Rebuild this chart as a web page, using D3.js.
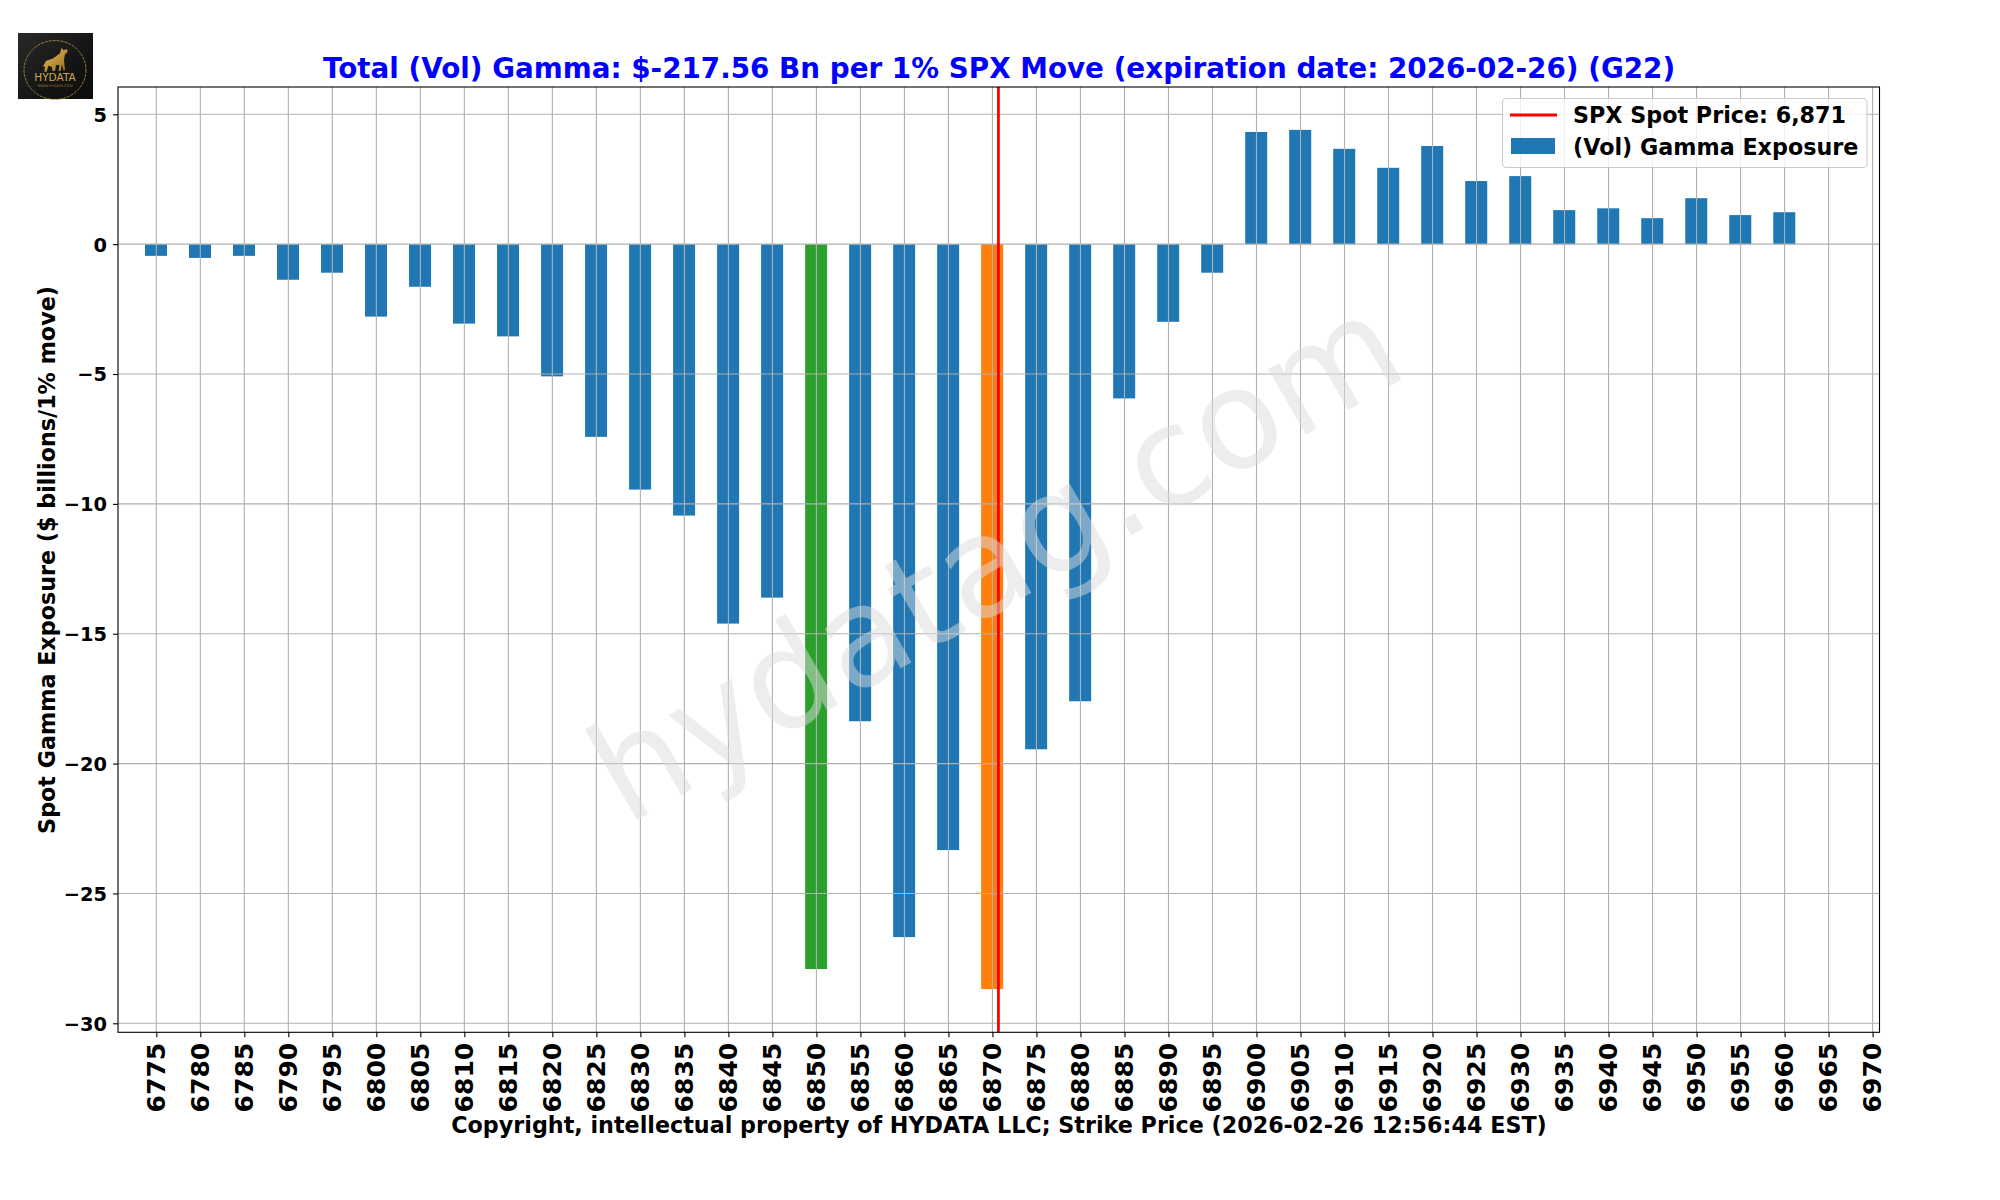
<!DOCTYPE html>
<html>
<head>
<meta charset="utf-8">
<script src="https://cdn.jsdelivr.net/npm/d3@7"></script>
<style>
body { margin:0; background:#fff; }
svg text { font-family:"DejaVu Sans"; font-weight:bold; fill:#000; }
</style>
</head>
<body>
<svg id="chart" width="2000" height="1200"></svg>
<script>
var strikes = [6775,6780,6785,6790,6795,6800,6805,6810,6815,6820,6825,6830,6835,6840,6845,6850,6855,6860,6865,6870,
               6875,6880,6885,6890,6895,6900,6905,6910,6915,6920,6925,6930,6935,6940,6945,6950,6955,6960,6965,6970];
var gamma = [-0.45,-0.53,-0.45,-1.37,-1.10,-2.79,-1.64,-3.06,-3.55,-5.09,-7.42,-9.45,-10.45,-14.61,-13.61,-27.91,-18.37,-26.68,-23.33,-28.68,
             -19.45,-17.60,-5.94,-2.99,-1.10,4.32,4.40,3.67,2.94,3.78,2.43,2.62,1.31,1.38,1.00,1.77,1.12,1.23,0,0];
var yTicks = [-30,-25,-20,-15,-10,-5,0,5];
var spot = 6870.68;
var greenStrike = 6850;
var orangeStrike = 6870;

var titleText = 'Total (Vol) Gamma: $-217.56 Bn per 1% SPX Move (expiration date: 2026-02-26) (G22)';
var xLabelText = 'Copyright, intellectual property of HYDATA LLC; Strike Price (2026-02-26 12:56:44 EST)';
var yLabelText = 'Spot Gamma Exposure ($ billions/1% move)';
var legendLine = 'SPX Spot Price: 6,871';
var legendBar = '(Vol) Gamma Exposure';

var plotL = 118, plotR = 1879.5, plotT = 87, plotB = 1032.3;
var svg = d3.select('#chart');

// pixel anchors for 6775 and 6970
var x = d3.scaleLinear().domain([6775,6970]).range([156.3,1872.6]);
x.domain([x.invert(plotL), x.invert(plotR)]).range([plotL,plotR]);
var y = d3.scaleLinear().domain([-30,5]).range([1023.3,114.3]);
y.domain([y.invert(plotB), y.invert(plotT)]).range([plotB,plotT]);

var barW = x(strikes[0]+2.5)-x(strikes[0]);

// bars
svg.append('g').selectAll('rect').data(strikes).enter().append('rect')
  .attr('x',function(d){return x(d)-barW/2-0.3;})
  .attr('width',barW)
  .attr('y',function(d,i){return y(Math.max(gamma[i],0));})
  .attr('height',function(d,i){return Math.abs(y(gamma[i])-y(0));})
  .attr('fill',function(d){return d==greenStrike ? '#2ca02c' : (d==orangeStrike ? '#ff7f0e' : '#1f77b4');});

// grid over the bars
var grid = svg.append('g').attr('stroke','#b0b0b0').attr('stroke-width',1.1);
grid.selectAll('line.v').data(strikes).enter().append('line').attr('class','v')
  .attr('x1',function(d){return x(d);}).attr('x2',function(d){return x(d);})
  .attr('y1',plotT).attr('y2',plotB);
grid.selectAll('line.h').data(yTicks).enter().append('line').attr('class','h')
  .attr('x1',plotL).attr('x2',plotR)
  .attr('y1',function(d){return y(d);}).attr('y2',function(d){return y(d);});

// spot line
svg.append('line').attr('x1',x(spot)).attr('x2',x(spot)).attr('y1',plotT).attr('y2',plotB)
  .attr('stroke','#ff0000').attr('stroke-width',2.8);

// watermark
svg.append('text').text('hydatag.com')
  .attr('transform','translate(1019,600) rotate(-30)')
  .attr('text-anchor','middle')
  .style('font-size','138px').style('font-weight','normal')
  .style('fill','#dcdcdc').style('fill-opacity',0.5);

// axes
var xAxis = d3.axisBottom(x).tickValues(strikes).tickFormat(d3.format('d')).tickSize(5).tickSizeOuter(0);
var gx = svg.append('g').attr('transform','translate(0,'+plotB+')').call(xAxis);
gx.select('.domain').remove();
gx.selectAll('.tick line').attr('stroke','#000').attr('stroke-width',1.1);
gx.selectAll('.tick text')
  .attr('transform','translate(-1,10.5) rotate(-90)')
  .attr('x',0).attr('y',0).attr('dy','0.36em')
  .attr('text-anchor','end')
  .style('font-size','25px');

var yAxis = d3.axisLeft(y).tickValues(yTicks).tickFormat(function(d){return String(d).replace('-','\u2212');}).tickSize(5).tickSizeOuter(0);
var gy = svg.append('g').attr('transform','translate('+plotL+',0)').call(yAxis);
gy.select('.domain').remove();
gy.selectAll('.tick line').attr('stroke','#000').attr('stroke-width',1.1);
gy.selectAll('.tick text').attr('x',-11).attr('dy','0.36em').style('font-size','19.4px');

// frame
svg.append('rect').attr('x',plotL).attr('y',plotT).attr('width',plotR-plotL).attr('height',plotB-plotT)
  .attr('fill','none').attr('stroke','#000').attr('stroke-width',1.1);

// title and labels
svg.append('text').text(titleText).attr('x',999).attr('y',78).attr('text-anchor','middle')
  .style('font-size','27.8px').style('fill','#0000ff');
svg.append('text').text(xLabelText).attr('x',999).attr('y',1133).attr('text-anchor','middle')
  .style('font-size','22.25px');
svg.append('text').text(yLabelText).attr('transform','translate(55,560) rotate(-90)').attr('text-anchor','middle')
  .style('font-size','22.25px');

// legend
var lg = svg.append('g');
lg.append('rect').attr('x',1502.5).attr('y',98.5).attr('width',364.5).attr('height',69).attr('rx',4)
  .attr('fill','#fff').attr('fill-opacity',0.8).attr('stroke','#cccccc').attr('stroke-width',1.1);
lg.append('line').attr('x1',1510).attr('x2',1557).attr('y1',115).attr('y2',115).attr('stroke','#ff0000').attr('stroke-width',2.8);
lg.append('rect').attr('x',1511).attr('y',138).attr('width',44).attr('height',16).attr('fill','#1f77b4');
lg.append('text').text(legendLine).attr('x',1573).attr('y',123).style('font-size','22.25px');
lg.append('text').text(legendBar).attr('x',1573).attr('y',154.5).style('font-size','22.25px');

// logo
var defs = svg.append('defs');
var bgGrad = defs.append('linearGradient').attr('id','logoBg').attr('x1',0).attr('y1',0).attr('x2',1).attr('y2',1);
bgGrad.append('stop').attr('offset','0').attr('stop-color','#2a2a2a');
bgGrad.append('stop').attr('offset','0.6').attr('stop-color','#141414');
bgGrad.append('stop').attr('offset','1').attr('stop-color','#0c0c0c');
var goldGrad = defs.append('linearGradient').attr('id','logoGold').attr('x1',0).attr('y1',0).attr('x2',1).attr('y2',1);
goldGrad.append('stop').attr('offset','0').attr('stop-color','#e6bd5a');
goldGrad.append('stop').attr('offset','1').attr('stop-color','#9c6f22');
var logo = svg.append('g');
logo.append('rect').attr('x',18).attr('y',33).attr('width',75).attr('height',66).attr('fill','url(#logoBg)');
logo.append('ellipse').attr('cx',55).attr('cy',70).attr('rx',31).attr('ry',29.5)
  .attr('fill','none').attr('stroke','#b08a3a').attr('stroke-width',0.9).attr('stroke-dasharray','3 1');
logo.append('path')
  .attr('transform','translate(10,25) scale(0.3333)')
  .attr('d','M172 72 L160 76 L155 68 L150 85 L130 100 L108 108 L100 122 L95 122 L105 125 L103 140 L110 140 L115 122 L125 125 L128 138 L135 138 L138 120 L148 120 L146 138 L152 138 L156 118 L160 136 L165 136 L162 105 L165 88 L172 82 Z')
  .attr('fill','url(#logoGold)');
logo.append('text').text('HYDATA').attr('x',55).attr('y',81).attr('text-anchor','middle')
  .style('font-size','10.5px').style('font-weight','normal').style('fill','#cfa64a');
logo.append('text').text('WWW.HYDATA.COM').attr('x',55).attr('y',86.5).attr('text-anchor','middle')
  .style('font-size','3.6px').style('font-weight','normal').style('fill','#9c7a35');
</script>
</body>
</html>
